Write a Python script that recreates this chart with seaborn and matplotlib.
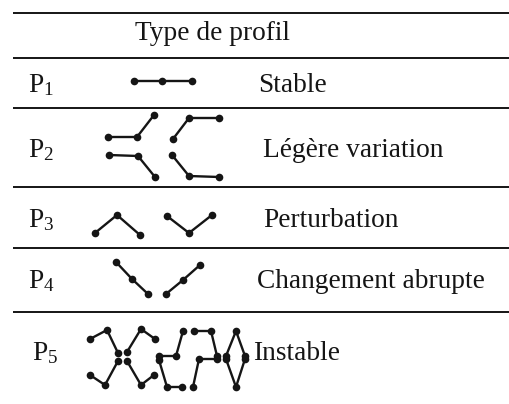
import matplotlib
matplotlib.use("Agg")
import matplotlib.pyplot as plt
import seaborn as sns
import pandas as pd

# ---- data ----
header = "Type de profil"
profile_ids = ["1", "2", "3", "4", "5"]
profile_names = ["Stable", "Légère variation", "Perturbation",
                 "Changement abrupte", "Instable"]

# glyph polylines (pixel coordinates in the table), three points each
glyph_row = ["P1",
             "P2", "P2", "P2", "P2",
             "P3", "P3",
             "P4", "P4",
             "P5", "P5", "P5", "P5", "P5", "P5", "P5", "P5", "P5", "P5"]
glyph_x = [[134, 162, 192],
           [108, 137, 154], [173, 189, 219], [109, 138, 155], [172, 189, 219],
           [95, 117, 140], [167, 189, 212],
           [116, 132, 148], [166, 183, 200],
           [90, 107, 118], [90, 105, 118], [127, 141, 155], [127, 141, 154],
           [159, 176, 183], [159, 167, 182], [194, 211, 217], [193, 199, 217],
           [226, 236, 245], [226, 236, 245]]
glyph_y = [[81, 81, 81],
           [137, 137, 115], [139, 118, 118], [155, 156, 177], [155, 176, 177],
           [233, 215, 235], [216, 233, 215],
           [262, 279, 294], [294, 280, 265],
           [339, 330, 353], [375, 385, 361], [352, 329, 339], [361, 385, 375],
           [356, 356, 331], [360, 387, 387], [331, 331, 356], [387, 359, 359],
           [356, 331, 356], [359, 387, 359]]

rule_y = [13, 58, 108, 187, 248, 312]
row_baseline = [92, 157, 227, 288, 360]

# ---- build table ----
recs = []
for g, (xs, ys) in enumerate(zip(glyph_x, glyph_y)):
    for k, (x, y) in enumerate(zip(xs, ys)):
        recs.append({"glyph": g, "order": k, "x": x, "y": y, "row": glyph_row[g]})
df = pd.DataFrame(recs)

sns.set_theme(style="white")
plt.rcParams["font.family"] = ["Liberation Serif", "DejaVu Serif"]
plt.rcParams["mathtext.fontset"] = "custom"
plt.rcParams["mathtext.rm"] = "Liberation Serif"
plt.rcParams["mathtext.it"] = "Liberation Serif:italic"

fig = plt.figure(figsize=(5.09, 4.04), dpi=100)
ax = fig.add_axes([0, 0, 1, 1])

sns.lineplot(data=df, x="x", y="y", units="glyph", estimator=None, sort=False,
             color="#151515", lw=1.7, marker="o", markersize=5.5,
             mec="#151515", mfc="#151515", mew=0, ax=ax, legend=False)
ax.set_xlabel("")
ax.set_ylabel("")
ax.set_xlim(0, 509)
ax.set_ylim(404, 0)
ax.axis("off")

ax.hlines(rule_y, 13, 509, color="#151515", lw=1.4)

fs = 19.7
ax.text(135, 40, header, fontsize=fs, ha="left", va="baseline", color="#151515")
px = [28, 28, 28, 28, 32]
name_x = [258, 263, 263, 257, 253]
for i, (pid, name) in enumerate(zip(profile_ids, profile_names)):
    ax.text(px[i], row_baseline[i], r"$\mathrm{P}_{%s}$" % pid, fontsize=fs,
            ha="left", va="baseline", color="#151515")
    ax.text(name_x[i], row_baseline[i], name, fontsize=fs, ha="left",
            va="baseline", color="#151515")

fig.savefig("out.png", dpi=100)
